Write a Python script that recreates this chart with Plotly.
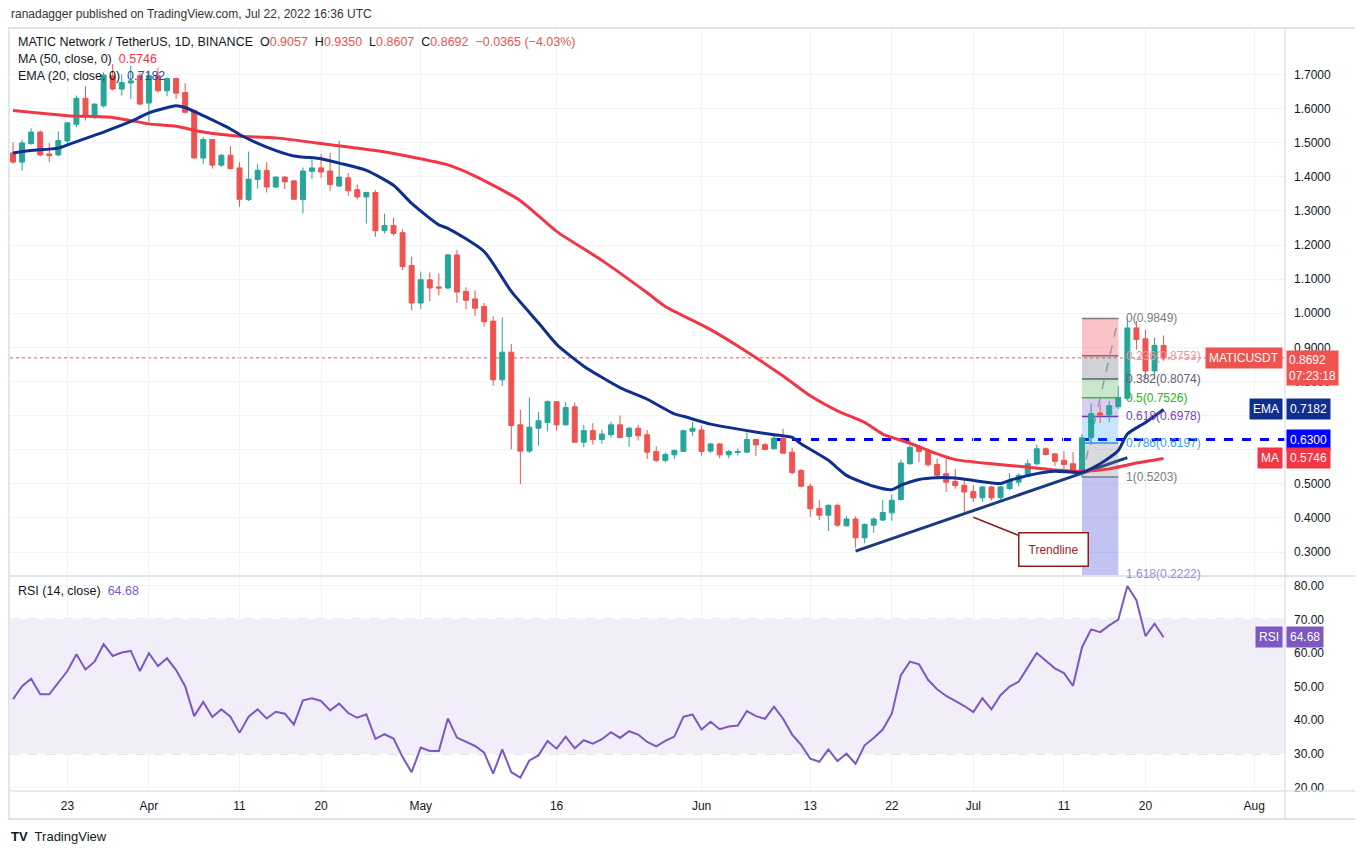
import pandas as pd
import plotly.graph_objects as go
from plotly.subplots import make_subplots

# MATIC/USDT daily candles, 17 Mar 2022 -> 22 Jul 2022
opens = [1.470, 1.443, 1.497, 1.531, 1.467, 1.464, 1.505, 1.554, 1.630, 1.577,
         1.608, 1.696, 1.657, 1.675, 1.696, 1.616, 1.696, 1.652, 1.688, 1.647,
         1.594, 1.455, 1.509, 1.434, 1.463, 1.426, 1.333, 1.392, 1.419, 1.370,
         1.399, 1.388, 1.333, 1.416, 1.426, 1.417, 1.373, 1.397, 1.362, 1.341,
         1.354, 1.242, 1.257, 1.236, 1.140, 1.030, 1.098, 1.077, 1.074, 1.171,
         1.064, 1.042, 1.020, 0.977, 0.805, 0.886, 0.673, 0.596, 0.663, 0.680,
         0.741, 0.673, 0.726, 0.622, 0.656, 0.630, 0.644, 0.673, 0.639, 0.663,
         0.644, 0.595, 0.569, 0.585, 0.595, 0.654, 0.658, 0.596, 0.617, 0.585,
         0.592, 0.593, 0.630, 0.615, 0.603, 0.634, 0.593, 0.539, 0.493, 0.428,
         0.408, 0.437, 0.377, 0.397, 0.342, 0.379, 0.394, 0.415, 0.454, 0.559,
         0.607, 0.595, 0.557, 0.530, 0.507, 0.496, 0.478, 0.459, 0.491, 0.459,
         0.486, 0.505, 0.522, 0.559, 0.603, 0.588, 0.569, 0.559, 0.533, 0.636,
         0.708, 0.702, 0.726, 0.751, 0.957, 0.925, 0.831, 0.9057]
highs = [1.501, 1.509, 1.542, 1.536, 1.499, 1.533, 1.560, 1.638, 1.665, 1.615,
         1.706, 1.730, 1.700, 1.726, 1.706, 1.711, 1.720, 1.691, 1.691, 1.674,
         1.598, 1.516, 1.511, 1.467, 1.490, 1.443, 1.474, 1.437, 1.443, 1.401,
         1.402, 1.390, 1.427, 1.451, 1.467, 1.470, 1.506, 1.411, 1.377, 1.356,
         1.361, 1.292, 1.280, 1.246, 1.166, 1.122, 1.120, 1.116, 1.174, 1.186,
         1.076, 1.067, 1.030, 0.991, 0.988, 0.910, 0.717, 0.753, 0.711, 0.745,
         0.743, 0.740, 0.738, 0.673, 0.678, 0.659, 0.682, 0.700, 0.668, 0.673,
         0.658, 0.610, 0.592, 0.600, 0.659, 0.682, 0.671, 0.620, 0.620, 0.600,
         0.604, 0.651, 0.632, 0.620, 0.648, 0.661, 0.606, 0.544, 0.501, 0.452,
         0.440, 0.442, 0.405, 0.405, 0.384, 0.402, 0.452, 0.469, 0.571, 0.629,
         0.614, 0.604, 0.574, 0.578, 0.544, 0.510, 0.496, 0.493, 0.493, 0.493,
         0.531, 0.531, 0.571, 0.615, 0.607, 0.590, 0.596, 0.593, 0.646, 0.736,
         0.732, 0.743, 0.787, 0.9849, 0.977, 0.952, 0.929, 0.9350]
lows = [1.438, 1.418, 1.494, 1.460, 1.443, 1.460, 1.492, 1.545, 1.565, 1.569,
        1.603, 1.653, 1.638, 1.628, 1.609, 1.560, 1.647, 1.636, 1.628, 1.585,
        1.453, 1.438, 1.424, 1.429, 1.422, 1.312, 1.329, 1.365, 1.354, 1.367,
        1.364, 1.332, 1.292, 1.394, 1.397, 1.359, 1.370, 1.344, 1.334, 1.263,
        1.224, 1.234, 1.227, 1.127, 1.009, 1.013, 1.035, 1.052, 1.071, 1.030,
        1.012, 0.991, 0.960, 0.787, 0.787, 0.601, 0.499, 0.590, 0.612, 0.654,
        0.656, 0.671, 0.620, 0.607, 0.615, 0.617, 0.636, 0.633, 0.609, 0.627,
        0.573, 0.564, 0.563, 0.573, 0.593, 0.641, 0.583, 0.590, 0.575, 0.575,
        0.583, 0.591, 0.581, 0.598, 0.601, 0.588, 0.528, 0.490, 0.403, 0.394,
        0.362, 0.374, 0.375, 0.313, 0.326, 0.357, 0.391, 0.392, 0.451, 0.556,
        0.564, 0.550, 0.520, 0.476, 0.486, 0.418, 0.447, 0.447, 0.452, 0.452,
        0.481, 0.493, 0.520, 0.554, 0.583, 0.552, 0.544, 0.530, 0.5203, 0.615,
        0.678, 0.680, 0.719, 0.748, 0.894, 0.811, 0.807, 0.8607]
closes = [1.443, 1.499, 1.531, 1.464, 1.462, 1.506, 1.558, 1.630, 1.577, 1.613,
          1.698, 1.657, 1.676, 1.681, 1.613, 1.696, 1.652, 1.688, 1.645, 1.589,
          1.455, 1.509, 1.434, 1.463, 1.424, 1.334, 1.393, 1.419, 1.370, 1.399,
          1.385, 1.334, 1.417, 1.426, 1.414, 1.377, 1.399, 1.359, 1.341, 1.354,
          1.242, 1.257, 1.234, 1.137, 1.030, 1.098, 1.074, 1.074, 1.171, 1.062,
          1.038, 1.015, 0.975, 0.805, 0.886, 0.671, 0.596, 0.666, 0.685, 0.741,
          0.673, 0.724, 0.622, 0.656, 0.630, 0.646, 0.673, 0.636, 0.663, 0.641,
          0.593, 0.569, 0.586, 0.598, 0.656, 0.663, 0.595, 0.617, 0.585, 0.595,
          0.595, 0.630, 0.614, 0.601, 0.634, 0.590, 0.533, 0.493, 0.427, 0.408,
          0.437, 0.379, 0.397, 0.342, 0.381, 0.397, 0.416, 0.452, 0.561, 0.607,
          0.595, 0.556, 0.525, 0.505, 0.495, 0.476, 0.459, 0.491, 0.459, 0.491,
          0.510, 0.525, 0.559, 0.603, 0.586, 0.566, 0.557, 0.533, 0.635, 0.706,
          0.702, 0.729, 0.753, 0.957, 0.923, 0.831, 0.9057, 0.8692]

rsi = [46.2, 50.1, 52.3, 47.7, 47.7, 51.1, 54.6, 59.6, 55.1, 57.4,
       62.6, 59.1, 60.1, 60.6, 54.6, 59.9, 56.1, 58.4, 54.9, 50.1,
       41.2, 45.4, 40.9, 43.2, 41.0, 36.2, 41.0, 43.2, 40.5, 42.5,
       41.9, 38.7, 45.9, 46.5, 45.7, 42.9, 44.9, 42.1, 40.7, 41.7,
       34.4, 35.8, 34.5, 29.0, 24.5, 31.8, 30.8, 30.8, 40.5, 34.8,
       33.6, 32.3, 30.3, 24.1, 31.3, 24.5, 22.9, 28.0, 29.5, 33.8,
       31.5, 35.1, 31.6, 34.0, 33.0, 34.3, 36.4, 34.7, 36.7, 35.7,
       33.5, 32.2, 33.8, 35.1, 41.0, 41.7, 37.2, 39.5, 37.3, 38.1,
       38.4, 42.7, 41.2, 40.4, 44.0, 40.4, 35.7, 32.6, 28.5, 27.6,
       31.3, 27.8, 30.0, 27.0, 32.5, 34.7, 37.2, 41.9, 53.4, 57.4,
       56.6, 52.0, 49.2, 47.2, 45.7, 44.2, 42.4, 46.5, 43.2, 47.4,
       50.0, 51.4, 55.7, 60.0, 57.7, 55.4, 54.0, 50.2, 61.7, 67.0,
       66.2, 68.2, 69.9, 79.9, 75.7, 65.0, 68.7, 64.68]

# moving averages, read at a few candles (index from first candle)
ma_idx = [0, 6, 11, 15, 18, 21, 25, 29, 35, 40, 44, 48, 51, 56, 60, 65, 70, 72,
          77, 80, 85, 88, 91, 94, 96, 99, 102, 104, 108, 112, 115, 118, 121, 124, 127]
ma_vals = [1.594, 1.579, 1.574, 1.555, 1.548, 1.531, 1.519, 1.514, 1.494, 1.477,
           1.458, 1.435, 1.402, 1.330, 1.240, 1.155, 1.060, 1.020, 0.952, 0.904,
           0.816, 0.758, 0.714, 0.680, 0.646, 0.619, 0.588, 0.571, 0.559, 0.549,
           0.541, 0.537, 0.544, 0.561, 0.5746]
ema_idx = [0, 2, 5, 7, 10, 13, 15, 18, 19, 21, 24, 25, 28, 31, 34, 36, 39, 42, 44,
           47, 48, 52, 55, 58, 60, 63, 67, 70, 73, 74, 77, 81, 84, 86, 87, 90, 92,
           95, 97, 98, 100, 102, 104, 106, 109, 110, 113, 115, 118, 120, 122, 123,
           125, 127]
ema_vals = [1.470, 1.477, 1.484, 1.503, 1.531, 1.562, 1.587, 1.608, 1.603, 1.579,
            1.540, 1.524, 1.487, 1.461, 1.453, 1.440, 1.419, 1.375, 1.322, 1.259,
            1.249, 1.181, 1.064, 0.972, 0.909, 0.845, 0.782, 0.748, 0.705, 0.698,
            0.675, 0.656, 0.644, 0.636, 0.617, 0.569, 0.525, 0.493, 0.483, 0.496,
            0.513, 0.518, 0.517, 0.510, 0.501, 0.510, 0.530, 0.537, 0.534, 0.559,
            0.598, 0.646, 0.680, 0.7182]

fib_levels = [0, 0.236, 0.382, 0.5, 0.618, 0.786, 1, 1.618]
fib_prices = [0.9849, 0.8753, 0.8074, 0.7526, 0.6978, 0.6197, 0.5203, 0.2222]
fib_from, fib_to = 118, 122

trend_idx = [93, 123]
trend_vals = [0.303, 0.577]

support = 0.63
support_from = 84

tick_dates = ["2022-03-23", "2022-04-01", "2022-04-11", "2022-04-20", "2022-05-01",
              "2022-05-16", "2022-06-01", "2022-06-13", "2022-06-22", "2022-07-01",
              "2022-07-11", "2022-07-20", "2022-08-01"]
tick_text = ["23", "Apr", "11", "20", "May", "16", "Jun", "13", "22", "Jul", "11", "20", "Aug"]
price_ticks = [0.3, 0.4, 0.5, 0.6, 0.7, 0.8, 0.9, 1.0, 1.1, 1.2, 1.3, 1.4, 1.5, 1.6, 1.7]
hidden_ticks = [0.6, 0.7]   # covered by the EMA / MA / level tags
rsi_ticks = [20, 30, 40, 50, 60, 70, 80]

GREEN = "#26a69a"
RED = "#ef5350"
MA_RED = "#f23645"
EMA_BLUE = "#0f2f8f"
PURPLE = "#7e57c2"
GRID = "#f0f3fa"
BORDER = "#e0e3eb"
FONT = "Liberation Sans"

dates = pd.date_range("2022-03-17", periods=len(opens), freq="D")
x_start = dates[0] - pd.Timedelta(hours=8)
x_end = dates[0] + pd.Timedelta(days=140.4)

fig = make_subplots(rows=2, cols=1, shared_xaxes=True, vertical_spacing=0,
                    row_heights=[548, 215])

fig.add_trace(go.Candlestick(
    x=dates, open=opens, high=highs, low=lows, close=closes,
    increasing=dict(line=dict(color=GREEN, width=1), fillcolor=GREEN),
    decreasing=dict(line=dict(color=RED, width=1), fillcolor=RED),
    whiskerwidth=0, showlegend=False, hoverinfo="skip"), row=1, col=1)

fig.add_trace(go.Scatter(
    x=dates[ma_idx], y=ma_vals, mode="lines", line=dict(color=MA_RED, width=3, shape="spline", smoothing=0.6),
    showlegend=False, hoverinfo="skip"), row=1, col=1)
fig.add_trace(go.Scatter(
    x=dates[ema_idx], y=ema_vals, mode="lines", line=dict(color=EMA_BLUE, width=3, shape="spline", smoothing=0.6),
    showlegend=False, hoverinfo="skip"), row=1, col=1)

fig.add_trace(go.Scatter(
    x=dates, y=rsi, mode="lines", line=dict(color=PURPLE, width=2),
    showlegend=False, hoverinfo="skip"), row=2, col=1)

# drawings
fig.add_shape(type="line", x0=dates[trend_idx[0]], x1=dates[trend_idx[1]], y0=trend_vals[0], y1=trend_vals[1],
              xref="x", yref="y", line=dict(color="#1c3a80", width=3), layer="between")

zone_fill = ["rgba(242,54,69,0.3)", "rgba(120,123,134,0.35)", "rgba(76,175,80,0.3)",
             "rgba(103,58,183,0.25)", "rgba(33,150,243,0.25)", "rgba(120,123,134,0.28)",
             "rgba(80,80,220,0.35)"]
line_col = ["#787b86", "#b05a63", "#5d606b", "#4caf50", "#673ab7", "#2196f3", "#787b86", "#5050d0"]
label_col = ["#787b86", "#f0949b", "#5d606b", "#22b422", "#7b3fb0", "#3aa0e8", "#787b86", "#9090e0"]

main_bottom = 215 / 763

for k in range(len(fib_prices) - 1):
    fig.add_shape(type="rect", x0=dates[fib_from], x1=dates[fib_to], y0=fib_prices[k], y1=fib_prices[k + 1],
                  xref="x", yref="y", fillcolor=zone_fill[k], line=dict(width=0), layer="between")
for k, (lvl, p) in enumerate(zip(fib_levels, fib_prices)):
    fig.add_shape(type="line", x0=dates[fib_from], x1=dates[fib_to], y0=p, y1=p, xref="x", yref="y",
                  line=dict(color=line_col[k], width=1.5), layer="between")
    if lvl == 1.618:
        # level sits just under the visible price range: only its top shows
        fig.add_annotation(x=dates[fib_to], y=main_bottom, xref="x", yref="paper", xanchor="left", xshift=6,
                           yanchor="bottom", yshift=-7, text=f"{lvl:g}({p:.4f})", showarrow=False,
                           font=dict(family=FONT, size=12, color=label_col[k]))
    else:
        fig.add_annotation(x=dates[fib_to], y=p, xref="x", yref="y", xanchor="left", xshift=6,
                           yanchor="middle", text=f"{lvl:g}({p:.4f})", showarrow=False,
                           font=dict(family=FONT, size=12, color=label_col[k]))

fig.add_shape(type="line", x0=dates[fib_from], x1=dates[fib_to], y0=fib_prices[6], y1=fib_prices[0],
              xref="x", yref="y", line=dict(color="#9598a1", width=1.5, dash="dash"), layer="between")

fig.add_shape(type="line", x0=(dates[support_from] - x_start) / (x_end - x_start), x1=1, xref="paper",
              y0=support, y1=support, yref="y",
              line=dict(color="#0000ff", width=3, dash="dash"), layer="between")

fig.add_shape(type="line", x0=0, x1=1, xref="paper", y0=closes[-1], y1=closes[-1], yref="y",
              line=dict(color=RED, width=1, dash="dot"), layer="between")

# rsi band and guides
fig.add_shape(type="rect", x0=0, x1=1, xref="paper", y0=30, y1=70, yref="y2",
              fillcolor="rgba(126,87,194,0.1)", line=dict(width=0), layer="below")
for lv, col in [(70, "#787b86"), (50, "#b2b5be"), (30, "#787b86")]:
    fig.add_shape(type="line", x0=0, x1=1, xref="paper", y0=lv, y1=lv, yref="y2",
                  line=dict(color=col, width=1, dash="dash"), layer="between")

# frame lines
fig.add_shape(type="line", x0=0, x1=1.0565, xref="paper", y0=main_bottom, y1=main_bottom, yref="paper",
              line=dict(color=BORDER, width=2))
fig.add_shape(type="rect", x0=-0.001, x1=1.0565, y0=-0.0367, y1=1, xref="paper", yref="paper",
              line=dict(color=BORDER, width=2))
fig.add_shape(type="line", x0=1, x1=1, y0=-0.0367, y1=1, xref="paper", yref="paper",
              line=dict(color=BORDER, width=1.5))
fig.add_shape(type="line", x0=0, x1=1.0565, y0=0, y1=0, xref="paper", yref="paper",
              line=dict(color=BORDER, width=1.5))

# trendline callout
fig.add_annotation(x=dates[106], y=0.402, xref="x", yref="y", ax=80, ay=32,
                   text="Trendline", showarrow=True, arrowhead=0, arrowwidth=1.5, arrowcolor="#8e1d1d",
                   bgcolor="white", bordercolor="#8e1d1d", borderwidth=1.5, borderpad=9,
                   font=dict(family=FONT, size=12, color="#a11f1f"))

# right-axis tags
def tag(text, y, yref, color, right=False, pad=3, **kw):
    fig.add_annotation(x=1, xref="paper", y=y, yref=yref, text=text, showarrow=False,
                       xanchor="right" if right else "left", xshift=-2 if right else 1,
                       bgcolor=color, borderpad=pad, font=dict(family=FONT, size=12, color="white"), **kw)

tag("MATICUSDT", closes[-1], "y", RED, right=True)
tag("0.8692<br>07:23:18", closes[-1], "y", RED, pad=2, yanchor="top", yshift=8, align="left")
tag("EMA", ema_vals[-1], "y", EMA_BLUE, right=True)
tag(f"{ema_vals[-1]:.4f}", ema_vals[-1], "y", EMA_BLUE)
tag(f"{support:.4f}", support, "y", "#0000ff")
tag("MA", ma_vals[-1], "y", MA_RED, right=True)
tag(f"{ma_vals[-1]:.4f}", ma_vals[-1], "y", MA_RED)
tag("RSI", rsi[-1], "y2", PURPLE, right=True)
tag(f"{rsi[-1]:.2f}", rsi[-1], "y2", PURPLE)

# legend texts
def note(text, x, y, size=12.5, color="#131722"):
    fig.add_annotation(x=x, y=y, xref="paper", yref="paper", xanchor="left", yanchor="middle",
                       text=text, showarrow=False, font=dict(family=FONT, size=size, color=color))

def red(s):
    return f"<span style='color:{RED}'>{s}</span>"

chg = closes[-1] - opens[-1]
note("ranadagger published on TradingView.com, Jul 22, 2022 16:36 UTC", -0.001, 1.0183, size=12, color="#333333")
note("MATIC Network / TetherUS, 1D, BINANCE  O" + red(f"{opens[-1]:.4f}") + "  H" + red(f"{highs[-1]:.4f}")
     + "  L" + red(f"{lows[-1]:.4f}") + "  C" + red(f"{closes[-1]:.4f}")
     + "  " + red(f"−{abs(chg):.4f} (−{abs(chg) / opens[-1] * 100:.2f}%)"), 0.005, 0.9817)
note(f"MA (50, close, 0)  <span style='color:{MA_RED}'>{ma_vals[-1]:.4f}</span>", 0.005, 0.9594)
note(f"EMA (20, close, 0)  <span style='color:#2a46a8'>{ema_vals[-1]:.4f}</span>", 0.005, 0.9371)
note(f"RSI (14, close)  <span style='color:{PURPLE}'>{rsi[-1]:.2f}</span>", 0.005, 0.2621)
note("<b>TV</b>  TradingView", -0.001, -0.059, size=13, color="#131722")

fig.update_xaxes(range=[x_start, x_end], tickvals=tick_dates, ticktext=tick_text, showgrid=True,
                 gridcolor=GRID, gridwidth=1, zeroline=False, ticks="", rangeslider_visible=False,
                 tickfont=dict(family=FONT, size=12, color="#131722"), ticklabelstandoff=6)
fig.update_xaxes(showticklabels=False, row=1, col=1)
fig.update_yaxes(side="right", showgrid=True, gridcolor=GRID, zeroline=False, ticks="",
                 tickfont=dict(family=FONT, size=12, color="#131722"), ticklabelstandoff=8)
fig.update_yaxes(range=[0.230, 1.836], tickvals=price_ticks,
                 ticktext=["" if v in hidden_ticks else f"{v:.4f}" for v in price_ticks],
                 row=1, col=1)
fig.update_yaxes(range=[18.9, 82.9], tickvals=rsi_ticks, ticktext=[f"{v:.2f}" for v in rsi_ticks],
                 row=2, col=1)

# the page body adds an 8px margin, so the figure is 8px smaller on each axis
fig.update_layout(width=1355, height=846, margin=dict(l=2, r=78, t=20, b=63),
                  paper_bgcolor="white", plot_bgcolor="white", hovermode=False, boxgap=0.22,
                  font=dict(family=FONT, size=12, color="#131722"))

fig.write_html("out.html")
